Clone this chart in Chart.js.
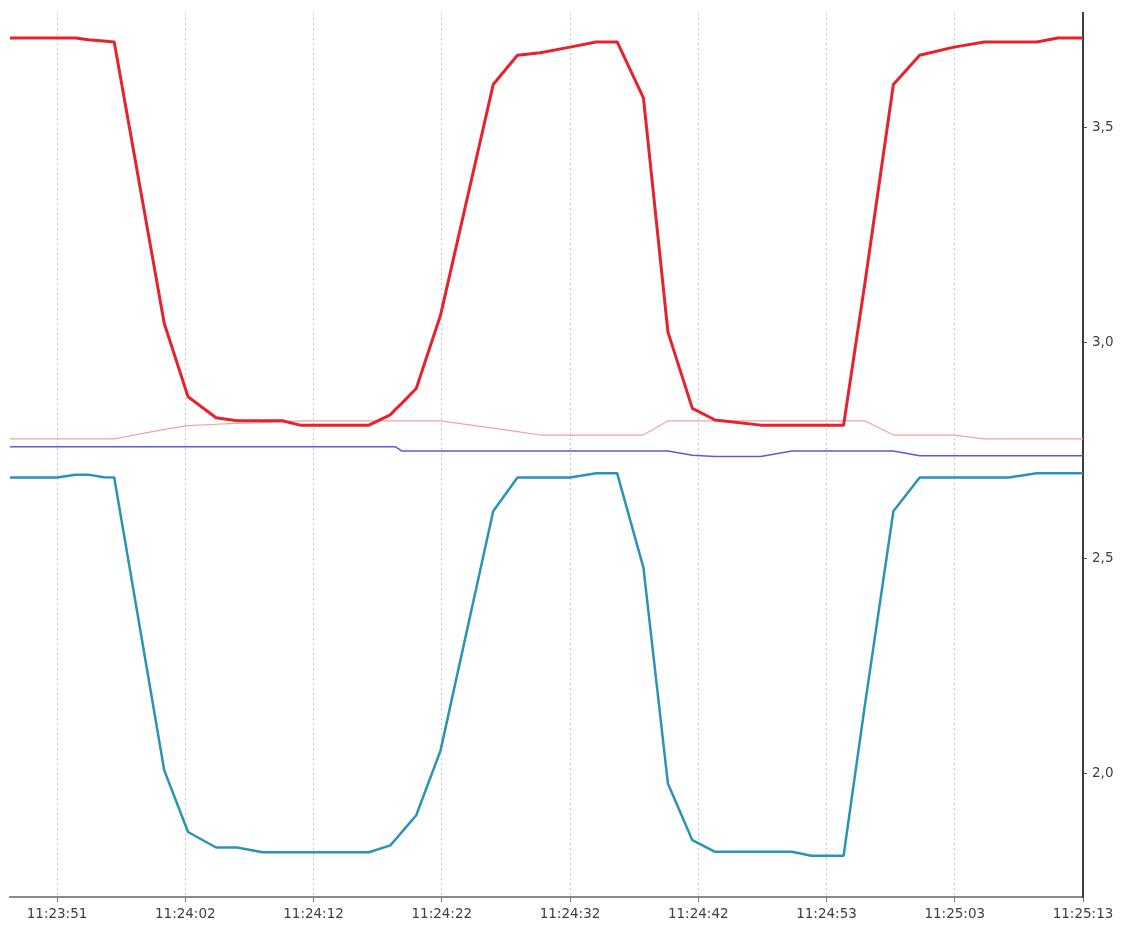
<!DOCTYPE html>
<html>
<head>
<meta charset="utf-8">
<title>Signal log</title>
<script src="https://cdn.jsdelivr.net/npm/chart.js@4.4.1/dist/chart.umd.min.js"></script>
<style>
  html, body { margin: 0; padding: 0; background: #ffffff; }
  #wrap { position: relative; width: 1122px; height: 933px; }
</style>
</head>
<body>
<div id="wrap"><canvas id="chart" width="1122" height="933"></canvas></div>
<script>
// Sample times, seconds after 11:23:00
const times = [48.06, 51.8, 53.27, 54.3, 55.5, 56.35, 60.33, 62.22, 64.45, 66.12,
  68.15, 69.71, 71.13, 76.61, 78.31, 78.7, 79.2, 80.37, 82.3, 86.49,
  88.42, 90.24, 92.6, 94.68, 96.35, 98.44, 100.39, 102.33, 104.14, 107.76,
  110.25, 111.79, 114.36, 116.03, 118.32, 120.41, 123.14, 125.55, 127.5, 129.72,
  131.39, 133.4];

// Upper channel (red)
const upperValues = [3.708, 3.708, 3.708, 3.704, 3.701, 3.699, 3.045, 2.875, 2.826, 2.819,
  2.819, 2.819, 2.809, 2.809, 2.833, 2.845, 2.859, 2.894, 3.064, 3.600,
  3.668, 3.674, 3.687, 3.699, 3.699, 3.569, 3.025, 2.848, 2.821, 2.809,
  2.809, 2.809, 2.809, 3.134, 3.600, 3.668, 3.687, 3.699, 3.699, 3.699,
  3.708, 3.708];

// Lower channel (teal)
const lowerValues = [2.6875, 2.6875, 2.694, 2.694, 2.688, 2.6875, 2.007, 1.864, 1.828, 1.828,
  1.817, 1.817, 1.817, 1.817, 1.833, 1.846, 1.863, 1.903, 2.053, 2.609,
  2.6875, 2.6875, 2.6875, 2.697, 2.697, 2.478, 1.976, 1.845, 1.818, 1.818,
  1.818, 1.809, 1.809, 2.154, 2.609, 2.6875, 2.6875, 2.6875, 2.6875, 2.697,
  2.697, 2.697];

// Reference level (light red)
const refValues = [2.777, 2.777, 2.777, 2.777, 2.777, 2.777, 2.799, 2.808, 2.811, 2.813,
  2.815, 2.817, 2.819, 2.819, 2.819, 2.819, 2.819, 2.819, 2.819, 2.802,
  2.794, 2.786, 2.786, 2.786, 2.786, 2.786, 2.819, 2.819, 2.819, 2.819,
  2.819, 2.819, 2.819, 2.819, 2.786, 2.786, 2.786, 2.777, 2.777, 2.777,
  2.777, 2.777];

// Supply level (blue)
const supplyValues = [2.759, 2.759, 2.759, 2.759, 2.759, 2.759, 2.759, 2.759, 2.759, 2.759,
  2.759, 2.759, 2.759, 2.759, 2.759, 2.759, 2.749, 2.749, 2.749, 2.749,
  2.749, 2.749, 2.749, 2.749, 2.749, 2.749, 2.749, 2.739, 2.736, 2.736,
  2.749, 2.749, 2.749, 2.749, 2.749, 2.738, 2.738, 2.738, 2.738, 2.738,
  2.738, 2.738];

// Time axis ticks (seconds after 11:23:00) and their labels
const tickSeconds = [51.8, 62.0, 72.2, 82.4, 92.6, 102.8, 113.0, 123.2, 133.4];
const tickLabels = ['11:23:51', '11:24:02', '11:24:12', '11:24:22', '11:24:32',
  '11:24:42', '11:24:53', '11:25:03', '11:25:13'];

// Voltage axis ticks
const voltTicks = [2.0, 2.5, 3.0, 3.5];

const pts = (vals) => times.map((t, i) => ({ x: t, y: vals[i] }));
const axisFont = { family: 'DejaVu Sans', size: 13.5 };

new Chart(document.getElementById('chart'), {
  type: 'line',
  data: {
    datasets: [
      { label: 'upper', data: pts(upperValues), borderColor: '#e6222c', borderWidth: 3, order: 0 },
      { label: 'lower', data: pts(lowerValues), borderColor: '#2a93b6', borderWidth: 2.5, order: 1 },
      { label: 'ref', data: pts(refValues), borderColor: '#f0a4a4', borderWidth: 1.2, order: 2 },
      { label: 'supply', data: pts(supplyValues), borderColor: '#5a58dc', borderWidth: 1.5, order: 3 }
    ]
  },
  options: {
    responsive: false,
    animation: false,
    elements: {
      point: { radius: 0, hoverRadius: 0 },
      line: { tension: 0, fill: false, borderJoinStyle: 'round' }
    },
    plugins: { legend: { display: false }, tooltip: { enabled: false } },
    layout: { padding: { left: 10, top: 10, right: 0, bottom: 0 } },
    scales: {
      x: {
        type: 'linear',
        min: 48.06,
        max: 133.4,
        afterBuildTicks: (s) => { s.ticks = tickSeconds.map(v => ({ value: v })); },
        afterFit: (s) => { s.height = 36; },
        ticks: {
          callback: (v, i) => tickLabels[i],
          autoSkip: false,
          maxRotation: 0,
          padding: 4,
          color: '#404040',
          font: axisFont
        },
        grid: { color: '#c6c6c6', lineWidth: 1, drawTicks: true, tickLength: 5, tickColor: '#777777', tickWidth: 1 },
        border: { display: true, color: '#8a8a8a', width: 2, dash: [2, 3] }
      },
      y: {
        type: 'linear',
        position: 'right',
        min: 1.713,
        max: 3.766,
        afterBuildTicks: (s) => { s.ticks = voltTicks.map(v => ({ value: v })); },
        afterFit: (s) => { s.width = 39; },
        ticks: {
          callback: (v) => Number(v).toFixed(1).replace('.', ','),
          padding: 5,
          color: '#404040',
          font: axisFont
        },
        grid: { drawOnChartArea: false, drawTicks: true, tickLength: 4, tickColor: '#555555', tickWidth: 1 },
        border: { display: true, color: '#3c3c3c', width: 2 }
      }
    }
  }
});
</script>
</body>
</html>
